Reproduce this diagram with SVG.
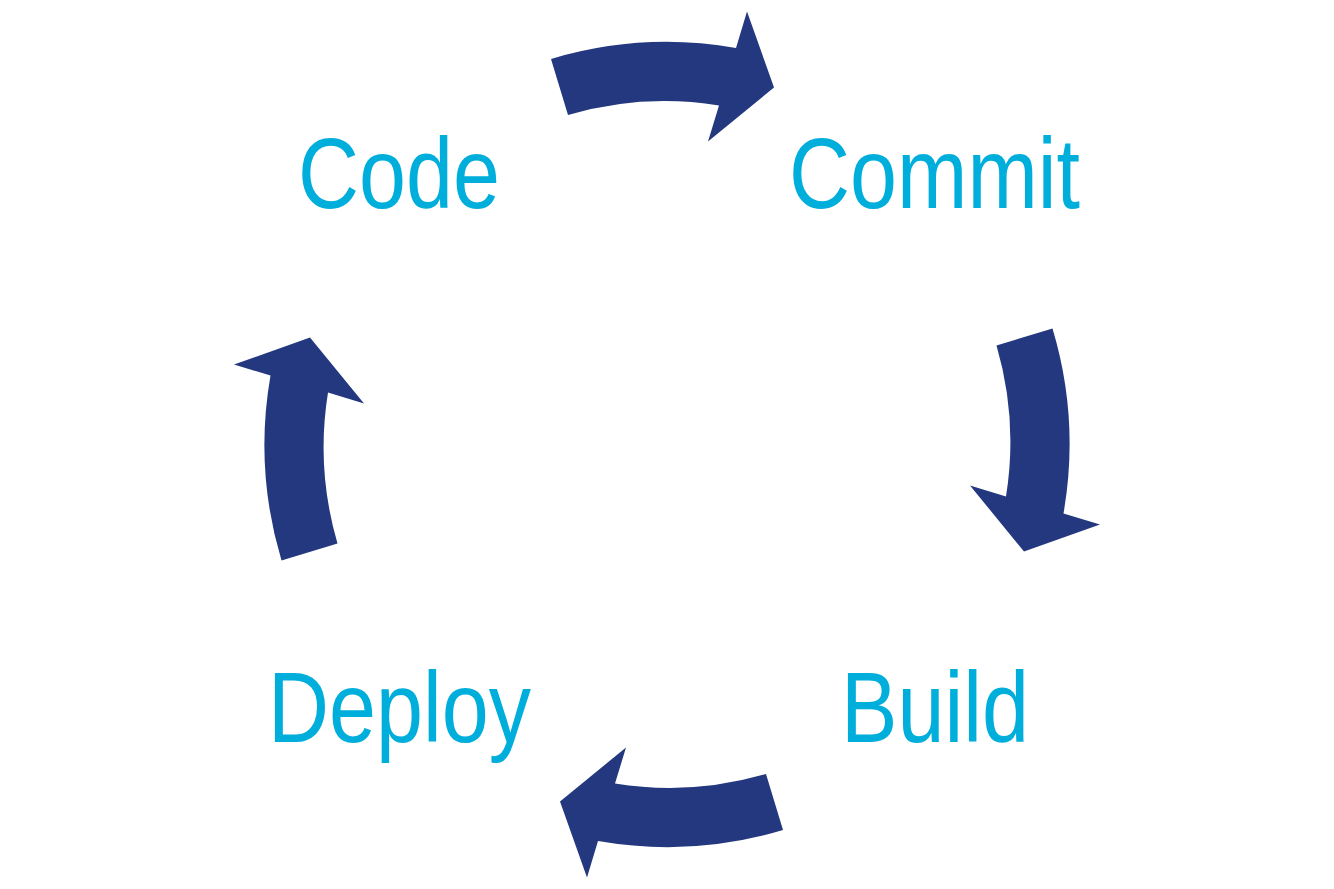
<svg xmlns="http://www.w3.org/2000/svg" width="1334" height="889" viewBox="0 0 1334 889">
<style>
.lbl{font-family:"Liberation Sans",Arial,sans-serif;font-size:100px;fill:#00AEDC}
.arr{fill:#24387F}
</style>
<defs>
<path id="arrowShape" d="M551,59 A402.5,402.5 0 0 1 736,48 L747,11.5 L774,87.5 L708,141.5 L719,105.5 A343.5,343.5 0 0 0 568,115 Z"/>
</defs>
<rect width="1334" height="889" fill="#fff"/>
<g id="connectors">
<use href="#arrowShape" class="arr"/>
<use href="#arrowShape" class="arr" transform="rotate(90 667 444.5)"/>
<use href="#arrowShape" class="arr" transform="rotate(180 667 444.5)"/>
<use href="#arrowShape" class="arr" transform="rotate(270 667 444.5)"/>
</g>
<g id="node-code"><text class="lbl" x="298" y="208" textLength="202" lengthAdjust="spacingAndGlyphs">Code</text></g>
<g id="node-commit"><text class="lbl" x="789" y="208" textLength="291" lengthAdjust="spacingAndGlyphs">Commit</text></g>
<g id="node-build"><text class="lbl" x="841" y="742" textLength="188" lengthAdjust="spacingAndGlyphs">Build</text></g>
<g id="node-deploy"><text class="lbl" x="268" y="742" textLength="263" lengthAdjust="spacingAndGlyphs">Deploy</text></g>
</svg>
